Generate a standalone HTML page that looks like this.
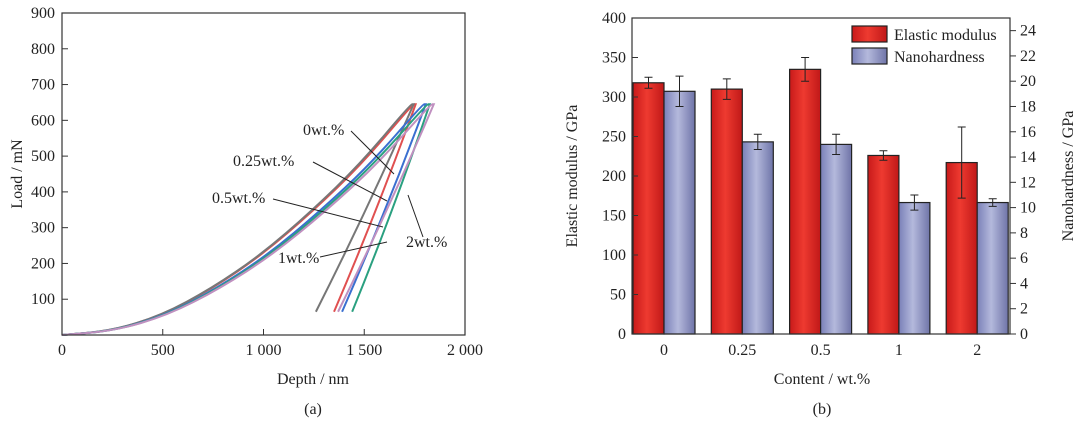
<!DOCTYPE html>
<html><head><meta charset="utf-8"><style>
body{margin:0;background:#fff;width:1080px;height:425px;overflow:hidden}
svg{font-family:"Liberation Serif",serif;font-size:16px;fill:#222}
</style></head><body>
<svg id="s" width="1080" height="425" viewBox="0 0 1080 425">
<defs>
<linearGradient id="rg" x1="0" x2="1"><stop offset="0" stop-color="#c81a1a"/><stop offset="0.45" stop-color="#ee3a30"/><stop offset="1" stop-color="#c01818"/></linearGradient>
<linearGradient id="bg" x1="0" x2="1"><stop offset="0" stop-color="#7a80b8"/><stop offset="0.45" stop-color="#b4b9dc"/><stop offset="1" stop-color="#6f74a8"/></linearGradient>
</defs>
<g id="left"></g>
<g id="right"></g>
</svg>
<script>
// ---- Chart (a) data ----
const seriesNames=['0wt.%','0.25wt.%','0.5wt.%','1wt.%','2wt.%'];
const seriesColors=['#e05050','#777777','#3a6fd0','#2aa080','#c090c0'];
const maxDepth=[1740,1730,1790,1810,1830];
const finalDepth=[1350,1260,1390,1440,1370];
const maxLoad=[645,645,645,645,645];
const finalLoad=[65,65,65,65,65];
const loadFrac=[0,0.25,0.5,0.75,1.0,1.25,1.5,1.75];
const loadVals=[0,12,55,130,225,345,480,645];
const xTicksA=[0,500,1000,1500,2000];
const xTickLabelsA=['0','500','1 000','1 500','2 000'];
const yTicksA=[100,200,300,400,500,600,700,800,900];
// ---- Chart (b) data ----
const categories=['0','0.25','0.5','1','2'];
const modulus=[318,310,335,226,217];
const modulusErr=[7,13,15,6,45];
const hardness=[19.2,15.2,15.0,10.4,10.4];
const hardnessErr=[1.2,0.6,0.8,0.6,0.3];
const yTicksB=[0,50,100,150,200,250,300,350,400];
const y2TicksB=[0,2,4,6,8,10,12,14,16,18,20,22,24];

const NS='http://www.w3.org/2000/svg';
function el(p,t,a,txt){const e=document.createElementNS(NS,t);for(const k in a)e.setAttribute(k,a[k]);if(txt!==undefined)e.textContent=txt;p.appendChild(e);return e;}

// ===== Chart A =====
const L=document.getElementById('left');
const ax=d=>62+d*(465-62)/2000, ay=v=>335-v*(335-13)/900;
for(let i=0;i<seriesNames.length;i++){
  const sc=maxDepth[i]/1750;
  let pts=loadFrac.map((f,j)=>[ax(f*1000*sc),ay(loadVals[j]*maxLoad[i]/645)]);
  pts.push([ax(maxDepth[i]+15),ay(maxLoad[i])]);
  const mx=(maxDepth[i]+finalDepth[i])/2+25, my=(maxLoad[i]+finalLoad[i])/2;
  const path=pts;
  let dd='M'+path[0][0]+','+path[0][1];
  for(let k=1;k<path.length;k++){const p0=path[k-1],p1=path[k];const cx=(p0[0]+p1[0])/2,cy=(p0[1]+p1[1])/2;dd+=' Q'+p0[0]+','+p0[1]+' '+cx+','+cy;}
  dd+=' L'+path[path.length-1][0]+','+path[path.length-1][1];
  dd+=' Q'+ax(mx)+','+ay(my)+' '+ax(finalDepth[i])+','+ay(finalLoad[i]);
  const c=el(L,'path',{d:dd,fill:'none',stroke:seriesColors[i],'stroke-width':2});
  
  
}
const fa=el(L,'rect',{x:62,y:13,width:403,height:322,fill:'none',stroke:'#333','stroke-width':1.2});

xTicksA.forEach((t,i)=>{el(L,'line',{x1:ax(t),x2:ax(t),y1:335,y2:329,stroke:'#333'});
  const tx=el(L,'text',{x:ax(t),y:355,'text-anchor':'middle'},xTickLabelsA[i]);
  });
yTicksA.forEach(t=>{el(L,'line',{x1:62,x2:68,y1:ay(t),y2:ay(t),stroke:'#333'});
  const tx=el(L,'text',{x:55,y:ay(t)+5,'text-anchor':'end'},t);
  });
const ann=[['0wt.%',303,135,351,131,394,174],['0.25wt.%',233,166,313,162,387,201],['0.5wt.%',212,203,273,199,383,227],['1wt.%',278,263,320,257,387,242],['2wt.%',406,247,423,237,408,195]];
ann.forEach(a=>{const t=el(L,'text',{x:a[1],y:a[2]},a[0]);
  el(L,'line',{x1:a[3],y1:a[4],x2:a[5],y2:a[6],stroke:'#222','stroke-width':1});});
let t=el(L,'text',{x:313,y:384,'text-anchor':'middle'},'Depth / nm');
t=el(L,'text',{x:0,y:0,transform:'translate(22,174) rotate(-90)','text-anchor':'middle'},'Load / mN');
t=el(L,'text',{x:313,y:414,'text-anchor':'middle'},'(a)');

// ===== Chart B =====
const R=document.getElementById('right');
const X0=632,X1=1010,Y0=334,Y1=18;
const by=v=>Y0-v*(Y0-Y1)/400, by2=v=>Y0-v*(Y0-Y1)/25;
const cx=i=>664+78.3*i, bw=31;
categories.forEach((c,i)=>{
  let r=el(R,'rect',{x:cx(i)-bw,y:by(modulus[i]),width:bw,height:Y0-by(modulus[i]),fill:'url(#rg)',stroke:'#222','stroke-width':1.2});
  
  r=el(R,'rect',{x:cx(i),y:by2(hardness[i]),width:bw,height:Y0-by2(hardness[i]),fill:'url(#bg)',stroke:'#222','stroke-width':1.2});
  
  const ex=cx(i)-bw/2, e1=by(modulus[i]+modulusErr[i]), e2=by(modulus[i]-modulusErr[i]);
  el(R,'path',{d:`M${ex},${e1}V${e2}M${ex-4},${e1}h8M${ex-4},${e2}h8`,stroke:'#222',fill:'none'});
  const hx=cx(i)+bw/2, h1=by2(hardness[i]+hardnessErr[i]), h2=by2(hardness[i]-hardnessErr[i]);
  el(R,'path',{d:`M${hx},${h1}V${h2}M${hx-4},${h1}h8M${hx-4},${h2}h8`,stroke:'#222',fill:'none'});
  const tx=el(R,'text',{x:cx(i),y:355,'text-anchor':'middle'},c);
});
const fb=el(R,'rect',{x:X0,y:Y1,width:X1-X0,height:Y0-Y1,fill:'none',stroke:'#333','stroke-width':1.2});

yTicksB.forEach(v=>{el(R,'line',{x1:X0,x2:X0+6,y1:by(v),y2:by(v),stroke:'#333'});
  const tx=el(R,'text',{x:X0-6,y:by(v)+5,'text-anchor':'end'},v);});
y2TicksB.forEach(v=>{el(R,'line',{x1:X1,x2:X1+6,y1:by2(v),y2:by2(v),stroke:'#333'});
  const tx=el(R,'text',{x:X1+10,y:by2(v)+5},v);});
let lg=el(R,'g',{});
el(lg,'rect',{x:852,y:26,width:35,height:16,fill:'url(#rg)',stroke:'#222','stroke-width':1.2});
el(lg,'text',{x:894,y:40},'Elastic modulus');
el(lg,'rect',{x:852,y:48,width:35,height:16,fill:'url(#bg)',stroke:'#222','stroke-width':1.2});
el(lg,'text',{x:894,y:62},'Nanohardness');
t=el(R,'text',{x:822,y:384,'text-anchor':'middle'},'Content / wt.%');
t=el(R,'text',{x:0,y:0,transform:'translate(577,176) rotate(-90)','text-anchor':'middle'},'Elastic modulus / GPa');
t=el(R,'text',{x:0,y:0,transform:'translate(1073,176) rotate(-90)','text-anchor':'middle'},'Nanohardness / GPa');
t=el(R,'text',{x:822,y:414,'text-anchor':'middle'},'(b)');
</script>
</body></html>
